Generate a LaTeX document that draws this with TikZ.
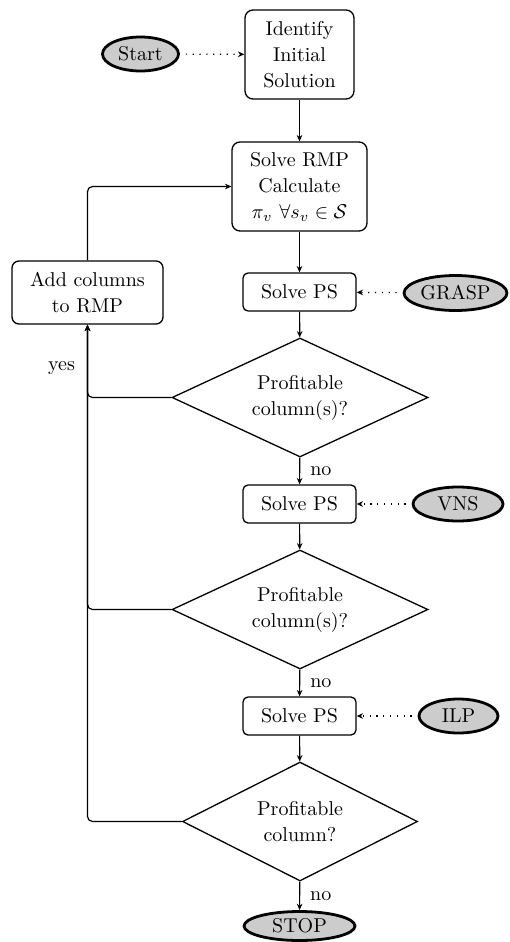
\documentclass[tikz,border=0pt]{standalone}
\usetikzlibrary{shapes.geometric,arrows.meta}
\begin{document}
\begin{tikzpicture}[x=0.5pt,y=-0.5pt,
  every node/.style={font=\fontsize{10}{13}\selectfont, align=center, inner sep=0pt},
  proc/.style={draw, line width=0.65pt, rounded corners=4pt},
  smallproc/.style={draw, line width=0.65pt, rounded corners=2.5pt, minimum width=56.5pt, minimum height=19pt},
  decide/.style={draw, diamond, aspect=2, line width=0.65pt, minimum height=59.5pt},
  term/.style={draw, ellipse, line width=1.4pt, fill=black!20, minimum height=17pt},
  flow/.style={line width=0.6pt, -{Stealth[length=3.2pt,width=2.8pt]}},
  heur/.style={line width=0.6pt, dash pattern=on 0.6pt off 2.8pt, shorten <=3pt, -{Stealth[length=3.2pt,width=2.8pt]}},
  back/.style={line width=0.6pt, rounded corners=2.5pt}
]
\useasboundingbox (0,0) rectangle (509,942);

\node[term, minimum width=38pt] (start) at (140.5,54) {Start};
\node[proc, minimum width=54.5pt, minimum height=44.5pt] (ident) at (299.5,54.5) {Identify\\Initial\\Solution};
\node[proc, minimum width=67.5pt, minimum height=44.5pt] (rmp) at (299.5,186.5) {Solve RMP\\Calculate\\$\pi_v\ \forall s_v\in\mathcal{S}$};
\node[proc, rounded corners=3.5pt, minimum width=75.5pt, minimum height=31.5pt] (add) at (87.5,292.5) {Add columns\\to RMP};

\node[smallproc] (ps1) at (299.5,292) {Solve PS};
\node[term, minimum width=51.5pt, minimum height=17.5pt] (grasp) at (455.5,293) {GRASP};
\node[decide, minimum width=128pt] (d1) at (300,397.5) {Profitable\\column(s)?};

\node[smallproc] (ps2) at (299.5,504) {Solve PS};
\node[term, minimum width=45pt] (vns) at (458,504) {VNS};
\node[decide, minimum width=128pt] (d2) at (300,609.5) {Profitable\\column(s)?};

\node[smallproc] (ps3) at (299.5,716) {Solve PS};
\node[term, minimum width=39.5pt] (ilp) at (458.5,716) {ILP};
\node[decide, minimum width=117.5pt] (d3) at (300,821.5) {Profitable\\column?};

\node[term, minimum width=55.5pt, minimum height=14.5pt] (stop) at (299.5,926) {STOP};

\draw[heur] (start) -- (ident);
\draw[heur] (grasp) -- (ps1);
\draw[heur] (vns) -- (ps2);
\draw[heur] (ilp) -- (ps3);

\draw[flow] (ident) -- (rmp);
\draw[flow] (rmp) -- (ps1);
\draw[flow] (ps1) -- (d1);
\draw[flow] (d1) -- node[right=5pt] {no} (ps2);
\draw[flow] (ps2) -- (d2);
\draw[flow] (d2) -- node[right=5pt] {no} (ps3);
\draw[flow] (ps3) -- (d3);
\draw[flow] (d3) -- node[right=5pt] {no} (stop);

\draw[back, -{Stealth[length=3.2pt,width=2.8pt]}] (add.north) |- (rmp.west);
\draw[back, -{Stealth[length=3.2pt,width=2.8pt]}] (d1.west) -| node[pos=0.7, left=6pt] {yes} (add.south);
\draw[back, -{Stealth[length=3.2pt,width=2.8pt]}] (d2.west) -| (add.south);
\draw[back, -{Stealth[length=3.2pt,width=2.8pt]}] (d3.west) -| (add.south);
\end{tikzpicture}
\end{document}
